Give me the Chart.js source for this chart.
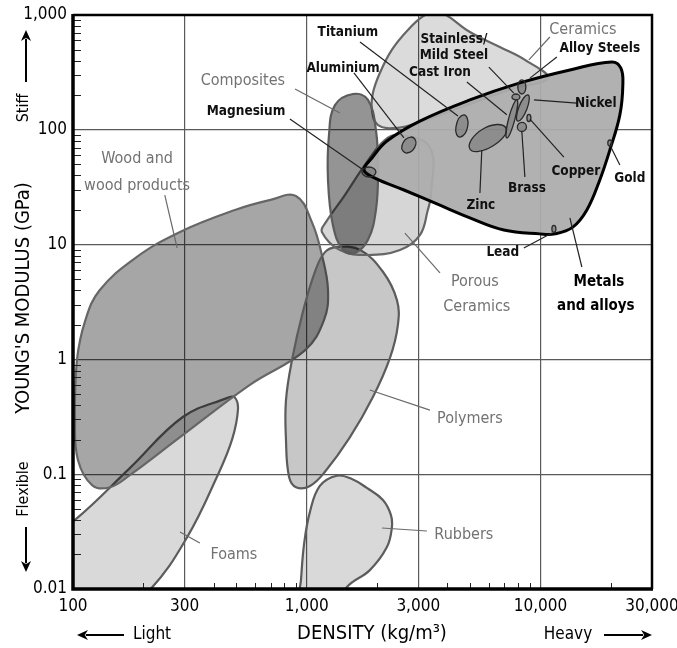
<!DOCTYPE html>
<html><head><meta charset="utf-8">
<script src="https://cdn.jsdelivr.net/npm/chart.js@4/dist/chart.umd.min.js"></script>
<style>html,body{margin:0;padding:0;background:#fff}canvas{display:block}</style>
</head><body>
<canvas id="c" width="677" height="648" style="width:677px;height:648px"></canvas>
<script>
const FONT = '"DejaVu Sans Condensed","Liberation Sans Narrow","DejaVu Sans",sans-serif';

// ---- axis ticks ----
const xTickValues = [100, 300, 1000, 3000, 10000, 30000];
const xTickLabels = ['100', '300', '1,000', '3,000', '10,000', '30,000'];
const xMinorTicks = [200, 400, 500, 600, 700, 800, 900, 2000, 4000, 5000, 6000, 7000, 8000, 9000, 20000];
const yTickValues = [0.01, 0.1, 1, 10, 100, 1000];
const yTickLabels = ['0.01', '0.1', '1', '10', '100', '1,000'];
const yMinorTicks = [0.02, 0.03, 0.04, 0.05, 0.06, 0.07, 0.08, 0.09,
  0.2, 0.3, 0.4, 0.5, 0.6, 0.7, 0.8, 0.9, 2, 3, 4, 5, 6, 7, 8, 9,
  20, 30, 40, 50, 60, 70, 80, 90, 200, 300, 400, 500, 600, 700, 800, 900];

// ---- material family envelopes: [density kg/m3, Young's modulus GPa] ----
const woodPts = [[899,26.5],[1052,15.7],[1161,8.1],[1233,4.0],[1185,2.2],[982,1.2],[571,0.6],[287,0.21],[175,0.098],[144,0.077],[121,0.08],[105,0.133],[102,0.3],[104,0.99],[113,2.2],[130,4.0],[184,7.6],[287,12.9],[493,20],[700,24.5]];
const foamPts = [[102,0.04],[175,0.113],[295,0.315],[456,0.46],[490,0.47],[508,0.37],[479,0.2],[413,0.095],[307,0.028],[213,0.0098],[110,0.003],[60,0.018]];
const rubberPts = [[925,0.006],[945,0.012],[975,0.025],[1032,0.047],[1138,0.079],[1346,0.097],[1560,0.0908],[1808,0.0759],[2118,0.0596],[2291,0.0442],[2312,0.034],[2203,0.0232],[1862,0.0146],[1486,0.0104],[1300,0.006]];
const polymerPts = [[1346,9.5],[1690,9.0],[2118,5.8],[2430,3.3],[2455,2.0],[2270,1.03],[1919,0.47],[1531,0.21],[1197,0.105],[1032,0.079],[900,0.077],[840,0.095],[815,0.2],[815,0.44],[865,0.99],[963,2.6],[1084,5.8],[1197,8.6]];
const compositePts = [[1577,205],[1828,182],[1977,99.6],[2018,44.7],[1977,20.0],[1828,11.0],[1607,8.45],[1429,8.97],[1294,14.8],[1233,36.6],[1245,90.1],[1321,164]];
const ceramicPts = [[1919,209],[2056,313],[2312,496],[2710,740],[3206,1000],[3715,1062],[4989,711],[6699,526],[8577,406],[10760,282],[7770,231],[4989,168],[3048,117],[2455,104],[2018,110],[1901,149]];
const porousPts = [[1161,12.9],[1208,15.7],[1456,27],[1774,49.4],[2158,81.5],[2506,90],[3365,70],[3400,27],[3296,20],[3048,12.1],[2506,8.97],[1810,8.12],[1387,8.97]];
const metalPts = [[1758,44.7],[1901,56.8],[2203,79.8],[3048,119],[4989,182],[8166,256],[13360,332],[20190,390],[22080,345],[22510,246],[21860,135],[19810,66.7],[17940,36.6],[15790,20.0],[13760,14.2],[11530,12.4],[9938,12.4],[6968,13.4],[4989,17.1],[3606,22.6],[2606,29.9],[1958,38.0]];

// ---- individual metals ----
const magnesiumPts = [[1722,42.9],[1845,47.4],[1977,42.9],[1845,38.8]];
const aluminiumPts = [[2790,86.5],[2931,75],[2684,62.8],[2553,72.3]];
const titaniumPts = [[4700,135],[4887,108],[4519,86.5],[4349,106]];
const zincPts = [[7110,104],[6250,72.3],[4989,68],[5673,101.6]];
const castIronPts = [[7925,182],[7762,122],[7178,84.9],[7320,127]];
const nickelPts = [[8838,201],[8750,152],[8000,119],[8084,158]];
const alloySteelPts = [[8325,272],[8660,236],[8325,205],[8000,236]];
const mildSteelPts = [[7550,193],[7843,205],[8166,193],[7843,182]];
const copperPts = [[8750,127],[8920,136],[9100,127],[8920,118]];
const brassPts = [[7962,106],[8325,116],[8710,106],[8325,96.6]];
const goldPts = [[19410,76.8],[19810,81.5],[20190,76.8],[19810,72.3]];
const leadPts = [[11190,13.7],[11410,14.7],[11640,13.7],[11410,12.8]];

// ---- labels (anchor in data units) and their leader lines ----
const familyLabels = [
  ['Composites', 533, 266], ['Wood and', 188, 55.7], ['wood products', 188, 32.4],
  ['Ceramics', 15180, 740], ['Porous', 5240, 4.72], ['Ceramics', 5340, 2.86],
  ['Polymers', 4989, 0.303], ['Rubbers', 4700, 0.0295], ['Foams', 488, 0.0198]
];
const metalLabels = [
  ['Titanium', 1500, 697], ['Aluminium', 1429, 345], ['Magnesium', 550, 143],
  ['Stainless/', 4262, 606], ['Mild Steel', 4262, 440], ['Cast Iron', 3715, 313],
  ['Alloy Steels', 17950, 506], ['Nickel', 17260, 171], ['Copper', 14170, 42.9],
  ['Brass', 8750, 31.1], ['Zinc', 5560, 22.1], ['Gold', 24100, 37.3], ['Lead', 6900, 8.62]
];
const bigLabels = [['Metals', 17780, 4.72], ['and alloys', 17260, 2.92]];
const familyLeaders = [
  [[891,227],[1387,140]], [[247,27.0],[279,9.34]], [[8920,406],[10970,643]],
  [[2630,12.6],[3715,5.66]], [[1862,0.541],[3365,0.362]], [[2098,0.034],[3266,0.032]],
  [[287,0.0314],[349,0.0252]]
];
const metalLeaders = [
  [[1690,582],[4434,132]], [[1592,313],[2606,84.9]], [[847,124],[1722,45.6]],
  [[6015,352],[7691,209]], [[4842,261],[7178,135]], [[11750,431],[9015,282]],
  [[14320,171],[9376,182]], [[12590,57.9],[9015,124]], [[8577,38.8],[8325,95.7]],
  [[5508,28.1],[5610,66.7]], [[21860,49.4],[20000,70.8]], [[8490,9.34],[11190,12.6]],
  [[13360,17.1],[15030,6.38]]
];

const toXY = pts => pts.map(p => ({x: p[0], y: p[1]}));
function shape(label, pts, bg, border, bw, order, tension) {
  return {label, data: toXY(pts), fill: 'shape', backgroundColor: bg, borderColor: border,
    borderWidth: bw, tension, pointRadius: 0, order, closed: true, clip: 0};
}
function leader(seg, color) {
  return {data: toXY(seg), fill: false, borderColor: color, borderWidth: 1.2, pointRadius: 0,
    tension: 0, order: 0, clip: 0};
}

const datasets = [
  shape('Foams', foamPts, 'rgba(0,0,0,0.15)', '#5c5c5c', 2.2, 9, 0.4),
  shape('Rubbers', rubberPts, 'rgba(0,0,0,0.15)', '#5c5c5c', 2.2, 8, 0.4),
  shape('Wood', woodPts, 'rgba(0,0,0,0.35)', '#666666', 2.2, 7, 0.4),
  shape('Polymers', polymerPts, 'rgba(0,0,0,0.22)', '#5c5c5c', 2.2, 6, 0.4),
  shape('Ceramics', ceramicPts, 'rgba(0,0,0,0.14)', '#666666', 2.2, 5, 0.4),
  shape('Porous Ceramics', porousPts, 'rgba(0,0,0,0.16)', '#666666', 2.2, 4, 0.4),
  shape('Composites', compositePts, 'rgba(0,0,0,0.42)', '#5c5c5c', 2.2, 3, 0.4),
  shape('Metals and alloys', metalPts, 'rgba(172,172,172,0.94)', '#000000', 3, 2, 0.4)
];
[magnesiumPts, aluminiumPts, titaniumPts, zincPts, castIronPts, nickelPts, alloySteelPts,
 mildSteelPts, copperPts, brassPts, goldPts, leadPts].forEach(p =>
  datasets.push(shape('metal', p, 'rgba(0,0,0,0.2)', '#2a2a2a', 1.3, 1, 0.55)));
familyLeaders.forEach(s => datasets.push(leader(s, '#6a6a6a')));
metalLeaders.forEach(s => datasets.push(leader(s, '#222222')));

const loopPlugin = {
  id: 'loop',
  afterDatasetUpdate(chart, args) {
    const ds = chart.data.datasets[args.index];
    if (ds.closed && args.meta.dataset) {
      args.meta.dataset._loop = true;
      args.meta.dataset._fullLoop = true;
    }
  }
};

function arrow(ctx, x1, y1, x2, y2) {
  const a = Math.atan2(y2 - y1, x2 - x1), L = 11, W = 5;
  ctx.beginPath(); ctx.moveTo(x1, y1);
  ctx.lineTo(x2 - Math.cos(a) * L * 0.8, y2 - Math.sin(a) * L * 0.8); ctx.stroke();
  ctx.beginPath(); ctx.moveTo(x2, y2);
  ctx.lineTo(x2 - Math.cos(a) * L + Math.sin(a) * W, y2 - Math.sin(a) * L - Math.cos(a) * W);
  ctx.lineTo(x2 - Math.cos(a) * L * 0.7, y2 - Math.sin(a) * L * 0.7);
  ctx.lineTo(x2 - Math.cos(a) * L - Math.sin(a) * W, y2 - Math.sin(a) * L + Math.cos(a) * W);
  ctx.closePath(); ctx.fill();
}

const decorPlugin = {
  id: 'decor',
  afterDatasetsDraw(chart) {
    const {ctx, chartArea: a} = chart;
    const xs = chart.scales.x, ys = chart.scales.y;
    ctx.save();
    // inward minor ticks
    ctx.strokeStyle = '#222'; ctx.lineWidth = 1;
    yMinorTicks.forEach(v => {
      const p = Math.round(ys.getPixelForValue(v)) + 0.5;
      ctx.beginPath(); ctx.moveTo(a.left, p); ctx.lineTo(a.left + 8, p); ctx.stroke();
    });
    xMinorTicks.forEach(v => {
      const p = Math.round(xs.getPixelForValue(v)) + 0.5;
      ctx.beginPath(); ctx.moveTo(p, a.bottom); ctx.lineTo(p, a.bottom - 6); ctx.stroke();
    });
    // frame
    ctx.strokeStyle = '#000';
    ctx.lineWidth = 2.5;
    ctx.beginPath(); ctx.moveTo(a.left, a.top); ctx.lineTo(a.right, a.top); ctx.lineTo(a.right, a.bottom); ctx.stroke();
    ctx.lineWidth = 3.5;
    ctx.beginPath(); ctx.moveTo(a.left, a.top - 1); ctx.lineTo(a.left, a.bottom); ctx.lineTo(a.right + 1, a.bottom); ctx.stroke();
    // labels
    ctx.textAlign = 'center'; ctx.textBaseline = 'middle';
    ctx.fillStyle = '#727272'; ctx.font = '16px ' + FONT;
    familyLabels.forEach(l => ctx.fillText(l[0], xs.getPixelForValue(l[1]), ys.getPixelForValue(l[2])));
    ctx.fillStyle = '#111'; ctx.font = 'bold 13.5px ' + FONT;
    metalLabels.forEach(l => ctx.fillText(l[0], xs.getPixelForValue(l[1]), ys.getPixelForValue(l[2])));
    ctx.fillStyle = '#000'; ctx.font = 'bold 15px ' + FONT;
    bigLabels.forEach(l => ctx.fillText(l[0], xs.getPixelForValue(l[1]), ys.getPixelForValue(l[2])));
    ctx.restore();
  },
  afterDraw(chart) {
    const {ctx} = chart;
    ctx.save();
    ctx.fillStyle = '#000'; ctx.strokeStyle = '#000'; ctx.lineWidth = 2;
    ctx.textBaseline = 'middle'; ctx.textAlign = 'center';
    // x axis title and hints
    ctx.font = '20px ' + FONT;
    ctx.fillText('DENSITY (kg/m\u00B3)', 372, 634);
    ctx.font = '17px ' + FONT;
    ctx.fillText('Light', 152, 635);
    ctx.fillText('Heavy', 568, 635);
    arrow(ctx, 124, 635, 77, 635);
    arrow(ctx, 604, 635, 652, 635);
    // y axis title and hints (rotated)
    ctx.save(); ctx.translate(24, 0); ctx.rotate(-Math.PI / 2);
    ctx.font = '20px ' + FONT;
    ctx.fillText("YOUNG'S MODULUS (GPa)", -298, 0);
    ctx.font = '16px ' + FONT;
    ctx.fillText('Stiff', -108, 0);
    ctx.fillText('Flexible', -489, 0);
    ctx.restore();
    arrow(ctx, 26, 82, 26, 30);
    arrow(ctx, 26, 527, 26, 572);
    ctx.restore();
  }
};

new Chart(document.getElementById('c'), {
  type: 'line',
  data: {datasets},
  options: {
    responsive: false, animation: false, events: [],
    layout: {padding: {left: 0, top: 15, right: 25, bottom: 0}},
    plugins: {legend: {display: false}, tooltip: {enabled: false}},
    scales: {
      x: {
        type: 'logarithmic', min: 100, max: 30000,
        afterBuildTicks: s => { s.ticks = xTickValues.map(v => ({value: v})); },
        afterFit: s => { s.height = 59; s.paddingLeft = 0; s.paddingRight = 0; },
        ticks: {autoSkip: false, maxRotation: 0, padding: 7, color: '#000',
          font: {family: FONT, size: 17},
          callback: v => { const i = xTickValues.indexOf(v); return i >= 0 ? xTickLabels[i] : ''; }},
        grid: {drawTicks: false, color: '#5a5a5a', lineWidth: 1.2},
        border: {display: false}
      },
      y: {
        type: 'logarithmic', min: 0.01, max: 1000,
        afterBuildTicks: s => { s.ticks = yTickValues.map(v => ({value: v})); },
        afterFit: s => { s.width = 73; s.paddingTop = 0; s.paddingBottom = 0; },
        ticks: {autoSkip: false, padding: 6, color: '#000',
          font: {family: FONT, size: 17},
          callback: v => { const i = yTickValues.indexOf(v); return i >= 0 ? yTickLabels[i] : ''; }},
        grid: {drawTicks: false, color: '#5a5a5a', lineWidth: 1.2},
        border: {display: false}
      }
    }
  },
  plugins: [loopPlugin, decorPlugin]
});
</script>
</body></html>
